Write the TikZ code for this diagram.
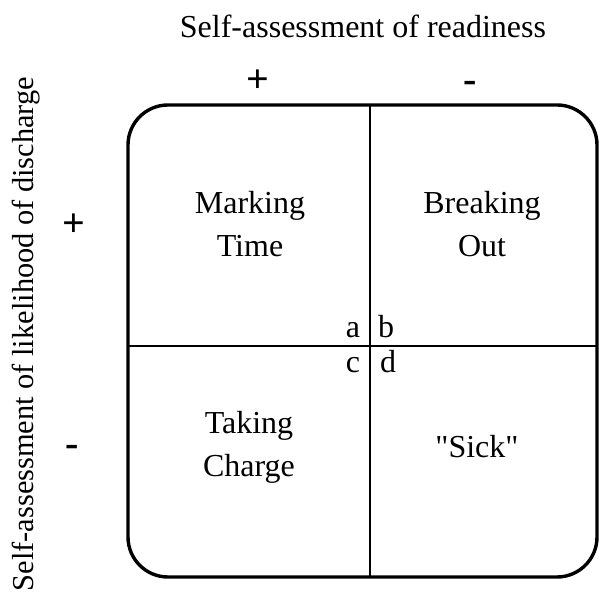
\documentclass[tikz,border=0pt]{standalone}
\usepackage{fontspec}
\setmainfont{Liberation Serif}

\begin{document}
\begin{tikzpicture}[
    x=0.5pt, y=-0.5pt,
    every node/.style={inner sep=0pt, font=\fontsize{16}{21.5}\selectfont},
    axislabel/.style={anchor=base},
    sign/.style={font=\fontsize{20}{20}\selectfont\bfseries},
    quadrant/.style={align=center, anchor=base},
    cornertag/.style={anchor=base},
    frame/.style={line width=1.7pt, rounded corners=20pt},
    divider/.style={line width=1.4pt}
    ]
    \useasboundingbox (0,0) rectangle (599,597);

    % axis titles and signs
    \node (readiness) [axislabel] at (363,38) {Self-assessment of readiness};
    \node (discharge) [axislabel, rotate=90, font=\fontsize{15.2}{18}\selectfont] at (33,334) {Self-assessment of likelihood of discharge};
    \node (rplus) [sign] at (258,81) {+};
    \node (rminus) [sign] at (470,87) {-};
    \node (dplus) [sign] at (74,225) {+};
    \node (dminus) [sign] at (72,451) {-};

    % frame and the two dividing lines
    \draw[frame] (128,105) rectangle (597,577);
    \coordinate (vtop) at (370,105);
    \coordinate (vbot) at (370,577);
    \coordinate (hleft) at (128,346);
    \coordinate (hright) at (597,346);
    \draw[divider] (vtop) -- (vbot);
    \draw[divider] (hleft) -- (hright);

    % quadrants (base = last line)
    \node (marking) [quadrant] at (250,257) {Marking\\Time};
    \node (breaking) [quadrant] at (482,257) {Breaking\\Out};
    \node (taking) [quadrant] at (249,477) {Taking\\Charge};
    \node (sick) [quadrant] at (477,458) {\textquotedbl Sick\textquotedbl};

    \node (a) [cornertag] at (353,338) {a};
    \node (b) [cornertag] at (386,338) {b};
    \node (c) [cornertag] at (353,373) {c};
    \node (d) [cornertag] at (388,373) {d};
\end{tikzpicture}
\end{document}
